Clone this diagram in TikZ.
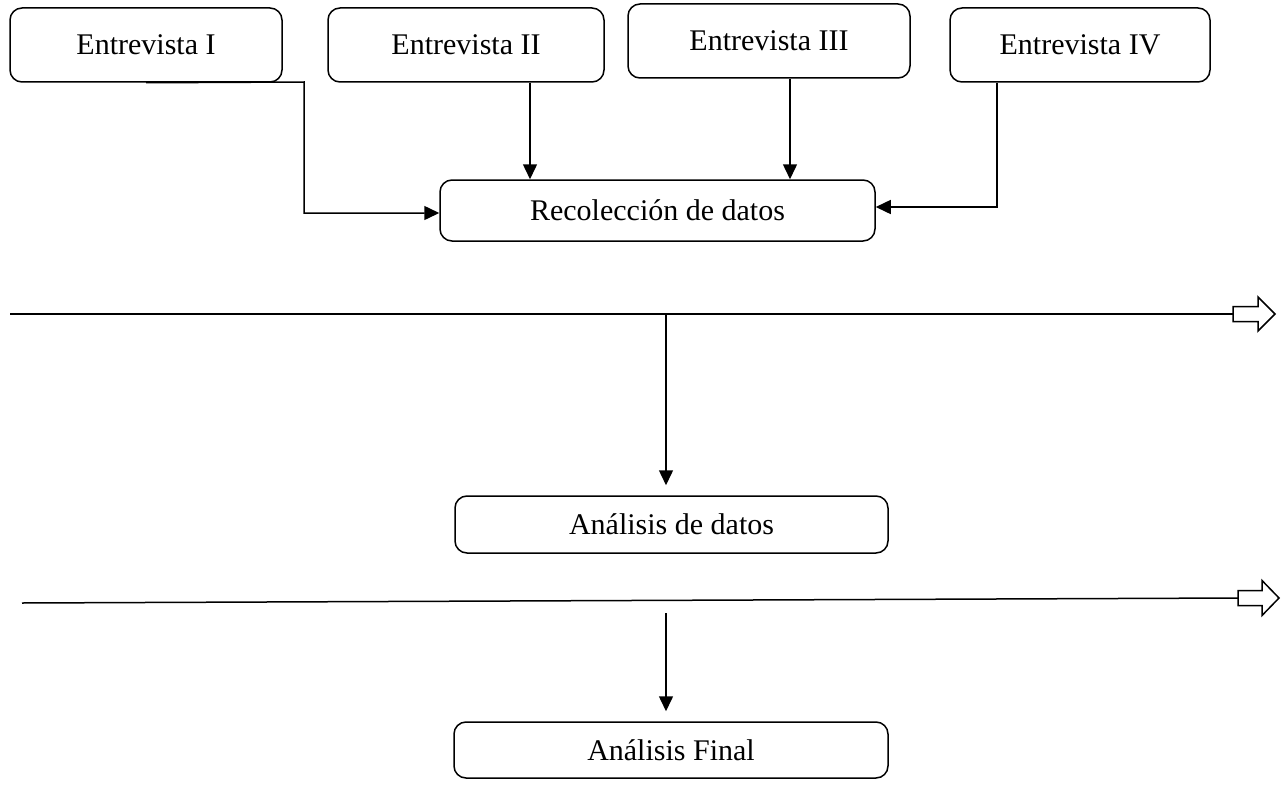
\documentclass[tikz,border=0pt]{standalone}
\usepackage{fontspec}
\setmainfont{Liberation Serif}
\usetikzlibrary{arrows.meta}
\begin{document}
\begin{tikzpicture}[x=1pt,y=-1pt,
  box/.style={draw, line width=1.5pt, rounded corners=12pt, inner sep=0pt,
    font=\fontsize{30}{35}\selectfont},
  link/.style={line width=1.5pt},
  arr/.style={link, -{Triangle[length=15pt,width=14pt]}},
  hollowtip/.style={draw, fill=white, line width=1.5pt, line join=miter}]
\useasboundingbox (0,0) rectangle (1287,789);

% interview boxes
\node[box, minimum width=272pt, minimum height=74pt] (e1) at (146,45) {Entrevista I};
\node[box, minimum width=276pt, minimum height=74pt] (e2) at (466,45) {Entrevista II};
\node[box, minimum width=282pt, minimum height=74pt] (e3) at (769,41) {Entrevista III};
\node[box, minimum width=260pt, minimum height=74pt] (e4) at (1080,45) {Entrevista IV};

% process boxes
\node[box, minimum width=435pt, minimum height=61pt] (rec) at (657.5,210.5) {Recolección de datos};
\node[box, minimum width=433pt, minimum height=57pt] (ana) at (671.5,524.5) {Análisis de datos};
\node[box, minimum width=434pt, minimum height=56pt] (fin) at (671,750) {Análisis Final};

% interviews feeding data collection
\coordinate (k1) at (304,82);
\draw[arr] (e1.south) -- (k1) |- ([yshift=-2.5pt]rec.west);
\draw[arr] ([xshift=64pt]e2.south) -- ([xshift=64pt]e2.south |- rec.north);
\draw[arr] ([xshift=21pt]e3.south) -- ([xshift=21pt]e3.south |- rec.north);
\draw[arr] ([xshift=-83pt]e4.south) |- ([yshift=3.5pt]rec.east);

% first phase line with hollow arrow
\coordinate (l1a) at (10,314);
\coordinate (l1b) at (1233,314);
\draw[link] (l1a) -- (l1b);
\draw[hollowtip] (l1b) ++(0,-7.5) -- ++(25,0) -- ++(0,-9.5) -- ++(17,17)
  -- ++(-17,17) -- ++(0,-9.5) -- ++(-25,0) -- cycle;

% second phase line with hollow arrow
\coordinate (l2a) at (22,603);
\coordinate (l2b) at (1238,598);
\draw[link] (l2a) -- (l2b);
\draw[hollowtip] (l2b) ++(0,-7.5) -- ++(24,0) -- ++(0,-10) -- ++(17,17.5)
  -- ++(-17,17.5) -- ++(0,-10) -- ++(-24,0) -- cycle;

% downward arrows
\coordinate (j1) at (666,314);
\draw[arr, shorten >=10pt] (j1) -- (j1 |- ana.north);
\coordinate (j2) at (666,613);
\draw[arr, shorten >=10pt] (j2) -- (j2 |- fin.north);
\end{tikzpicture}
\end{document}
